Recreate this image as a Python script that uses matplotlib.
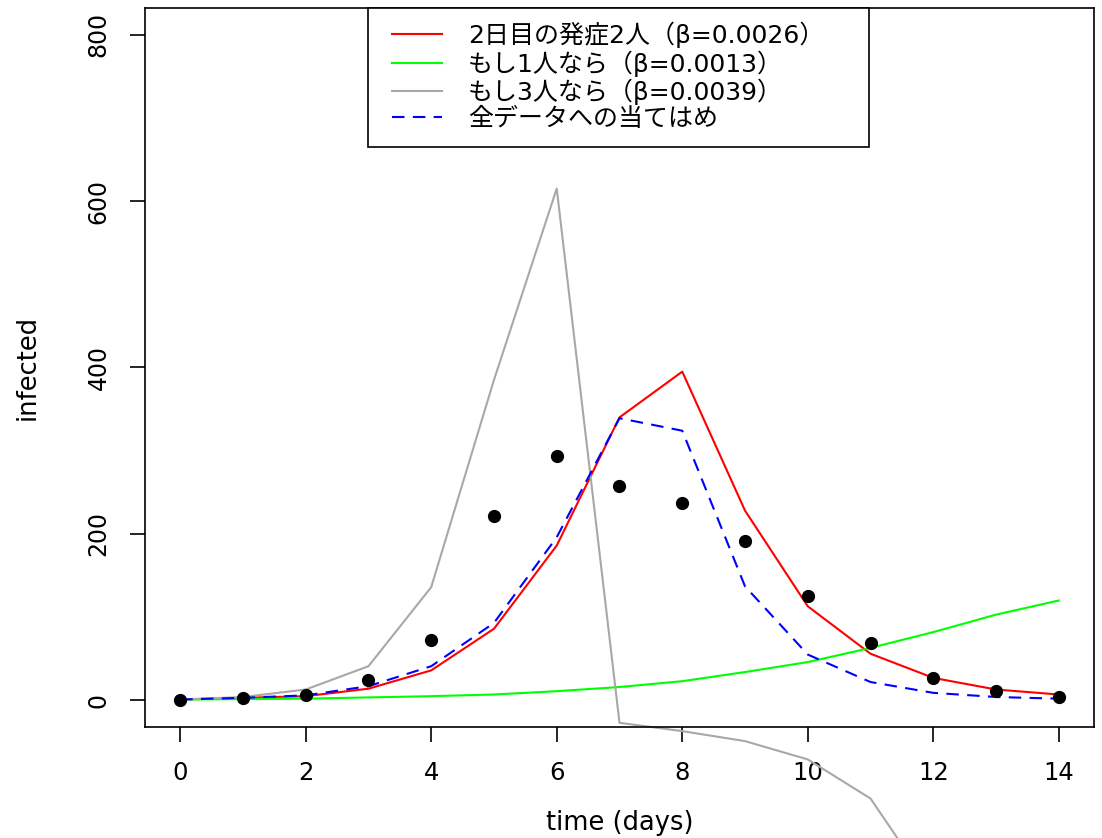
import matplotlib
matplotlib.use("Agg")
import matplotlib.pyplot as plt
from matplotlib.patches import Rectangle

days = list(range(15))
observed = [1, 3, 6, 25, 73, 222, 294, 258, 237, 191, 125, 69, 27, 11, 4]
sir_b0026 = [1, 3, 5, 14, 36, 86, 186, 340, 395, 228, 113, 56, 27, 13, 7]
sir_b0013 = [1, 1.5, 2, 3.5, 5, 7, 11, 16, 23, 34, 46, 63, 82, 103, 120]
days_b0039 = list(range(13))
sir_b0039 = [1, 4, 13, 41, 136, 385, 615, -27, -37, -49, -71, -118, -229]
fit_all = [1, 3, 6, 17, 41, 93, 196, 339, 324, 137, 55, 22, 9, 4, 2]

labels = ["2日目の発症2人（β=0.0026）",
          "もし1人なら（β=0.0013）",
          "もし3人なら（β=0.0039）",
          "全データへの当てはめ"]
xticks = [0, 2, 4, 6, 8, 10, 12, 14]
yticks = [0, 200, 400, 600, 800]

plt.rcParams['font.family'] = ['DejaVu Sans', 'Noto Sans CJK JP']

fig = plt.figure(figsize=(11.02, 8.38), dpi=100)
ax = fig.add_axes([0.1316, 0.1325, 0.8611, 0.858])

ax.plot(days, observed, 'o', color='black', markersize=8.5, zorder=5, clip_on=False)
l1, = ax.plot(days, sir_b0026, color='#FF0000', lw=1.5)
l2, = ax.plot(days, sir_b0013, color='#00FF00', lw=1.5)
l3, = ax.plot(days_b0039, sir_b0039, color='#A8A8A8', lw=1.5, clip_on=False)
l4, = ax.plot(days, fit_all, color='#0000FF', lw=1.5, linestyle=(0, (6, 4)))

ax.set_xlim(-0.56, 14.56)
ax.set_ylim(-32, 832)
ax.set_xticks(xticks)
ax.set_yticks(yticks)
ax.set_yticklabels([str(v) for v in yticks], rotation=90, va='center')
ax.tick_params(axis='both', length=10.8, width=1.2)
ax.tick_params(axis='x', labelsize=17.5, pad=13.5)
ax.tick_params(axis='y', labelsize=17, pad=14)
for s in ax.spines.values():
    s.set_linewidth(1.2)

ax.set_xlabel("time (days)", fontsize=18.5, labelpad=18)
ax.set_ylabel("infected", fontsize=18.5, labelpad=33)

# legend frame
frame = Rectangle((0.235, 0.8067), 0.528, 0.1933, transform=ax.transAxes,
                  facecolor='white', edgecolor='black', linewidth=1.2,
                  zorder=10, clip_on=False)
ax.add_patch(frame)

leg = ax.legend([l1, l2, l3, l4], labels, loc='upper left',
                bbox_to_anchor=(0.2455, 1.0), borderaxespad=0,
                fontsize=18, frameon=False, handlelength=2.0,
                handletextpad=1.05, labelspacing=0.08, borderpad=0.55)
leg.set_zorder(11)

fig.savefig("out.png", dpi=100)
